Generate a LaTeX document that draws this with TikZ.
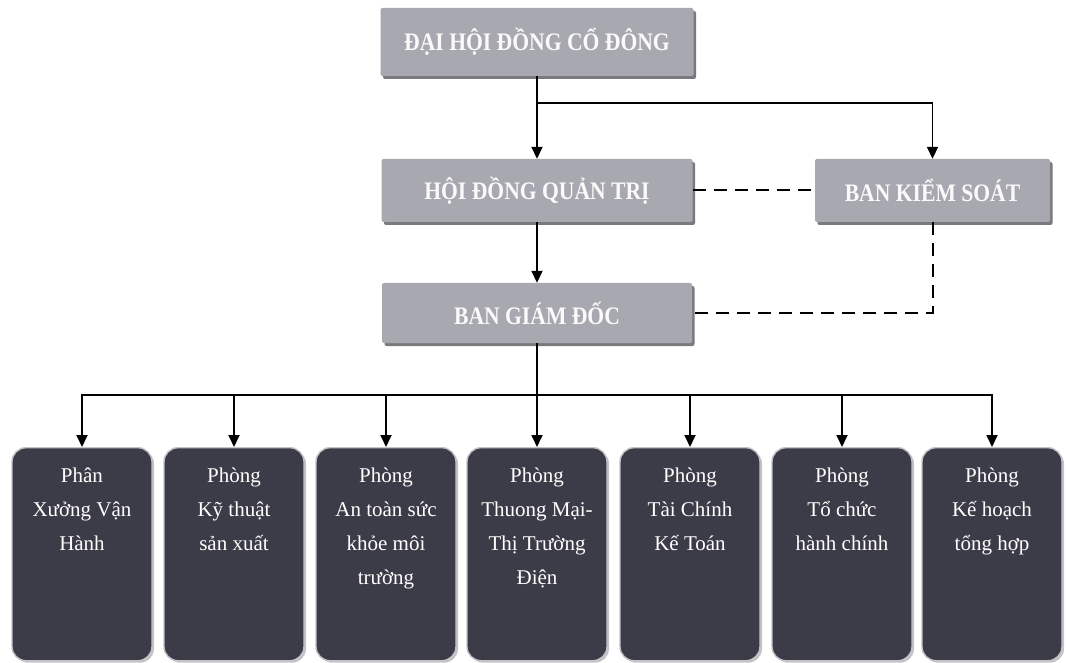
\documentclass[tikz,border=0pt]{standalone}
\usepackage{fontspec}
\usepackage{graphicx}
\setmainfont{Liberation Serif}
\usetikzlibrary{arrows.meta,shadows}
\definecolor{topgray}{HTML}{A8A8B0}
\definecolor{botdark}{HTML}{3C3C48}
\definecolor{shad}{HTML}{7A7A7E}
\definecolor{rim}{HTML}{C4C4C8}
\newcommand\toptext[1]{\scalebox{1.03}[1.2]{#1}}
\newcommand\bottext[1]{\parbox[t][213pt][t]{140pt}{\vspace*{20pt}\centering\fontsize{21}{34}\selectfont #1\par}}
\tikzset{
  topbox/.style={fill=topgray, text=white!96!gray, rounded corners=2pt, inner sep=0pt,
    font=\bfseries\fontsize{21}{24}\selectfont,
    drop shadow={shadow xshift=2.5pt, shadow yshift=-3pt, fill=shad, opacity=1}},
  botbox/.style={fill=botdark, draw=rim, line width=1.4pt, rounded corners=14pt, inner sep=0pt,
    text=white, anchor=north, minimum width=140pt, minimum height=213pt,
    drop shadow={shadow xshift=2pt, shadow yshift=-2pt, fill=rim, opacity=1}},
  arr/.style={line width=1.8pt, -{Triangle[length=12pt,width=11pt]}},
  conn/.style={line width=1.8pt},
  dline/.style={line width=2pt, dash pattern=on 13pt off 8pt}
}
\begin{document}
\begin{tikzpicture}[x=1pt,y=-1pt]
\useasboundingbox (0,0) rectangle (1066,663);
\node[topbox, minimum width=313pt, minimum height=68pt] (dhd) at (537,42) {\toptext{ĐẠI HỘI ĐỒNG CỔ ĐÔNG}};
\node[topbox, minimum width=311pt, minimum height=63pt] (hdqt) at (537,190.5) {\toptext{HỘI ĐỒNG QUẢN TRỊ}};
\node[topbox, minimum width=235pt, minimum height=63pt] (bks) at (932.5,190.5) {\toptext{BAN KIỂM SOÁT}};
\node[topbox, minimum width=310pt, minimum height=60pt] (bgd) at (537,313) {\toptext{BAN GIÁM ĐỐC}};

\node[botbox] (b1) at (82,447) {\bottext{Phân\\Xưởng Vận\\Hành}};
\node[botbox] (b2) at (234,447) {\bottext{Phòng\\Kỹ thuật\\sản xuất}};
\node[botbox] (b3) at (386,447) {\bottext{Phòng\\An toàn sức\\khỏe môi\\trường}};
\node[botbox] (b4) at (537,447) {\bottext{Phòng\\Thuong Mại-\\Thị Trường\\Điện}};
\node[botbox] (b5) at (690,447) {\bottext{Phòng\\Tài Chính\\Kế Toán}};
\node[botbox] (b6) at (842,447) {\bottext{Phòng\\Tổ chức\\hành chính}};
\node[botbox] (b7) at (992,447) {\bottext{Phòng\\Kế hoạch\\tổng hợp}};

\coordinate (j1) at (537,103);
\coordinate (j2) at (537,395);
\draw[arr] (dhd.south) -- (hdqt.north);
\draw[arr] (j1) -| (bks.north);
\draw[dline] (hdqt.east) -- (bks.west);
\draw[dline] (bks.south) |- (bgd.east);
\draw[arr] (hdqt.south) -- (bgd.north);
\draw[conn] (bgd.south) -- (j2);
\foreach \b in {b1,b2,b3,b4,b5,b6,b7}{
  \draw[arr] (j2) -| (\b.north);
}
\end{tikzpicture}
\end{document}
